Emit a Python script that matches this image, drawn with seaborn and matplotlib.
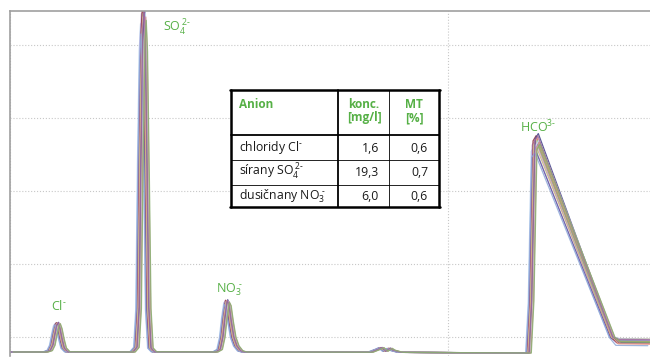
import numpy as np
import pandas as pd
import matplotlib.pyplot as plt
import seaborn as sns
from matplotlib.patches import Rectangle
from matplotlib.lines import Line2D

# template chromatogram (time in min, conductivity)
tmpl_t = [0.00, 0.80, 0.90, 0.96, 1.01, 1.05, 1.08, 1.12, 1.17, 1.22, 1.30,
          2.79, 2.88, 2.93, 2.97, 3.01, 3.04, 3.07, 3.11, 3.15, 3.20, 3.28,
          4.68, 4.78, 4.84, 4.89, 4.94, 4.98, 5.03, 5.09, 5.16, 5.25, 5.34,
          8.22, 8.40, 8.47, 8.56, 8.66, 8.72, 8.90,
          11.83, 11.89, 11.96, 12.03, 13.74, 13.88, 14.61]
tmpl_y = [7.95, 7.95, 8.15, 8.90, 10.5, 11.6, 11.9, 11.2, 9.7, 8.5, 7.98,
          7.95, 8.6, 14.0, 35.0, 50.5, 54.3, 50.0, 33.0, 14.0, 8.5, 7.98,
          7.95, 8.3, 10.0, 12.8, 14.9, 14.4, 12.2, 10.0, 8.8, 8.1, 7.95,
          7.92, 8.35, 8.55, 8.05, 8.45, 8.2, 7.90,
          7.81, 15.0, 36.3, 37.0, 10.0, 9.45, 9.40]

# per-run retention shift (min), peak scale, tail level offset, colour
run_shift = [-0.06, -0.04, -0.03, -0.02, -0.01, 0.00, 0.00, 0.01,
             0.02, 0.03, 0.04, 0.05, 0.06, -0.05, 0.02, 0.07]
run_scale = [0.97, 1.00, 0.95, 1.02, 0.99, 1.00, 0.96, 1.01,
             0.98, 1.03, 0.97, 1.00, 0.99, 0.94, 1.02, 0.98]
run_tail = [0.3, -0.2, 0.0, -0.3, 0.2, -0.1, 0.4, -0.4,
            0.1, -0.2, 0.0, 0.3, -0.3, -0.5, 0.2, -0.1]
run_colors = ["#a8c8ec", "#b8a4d8", "#6a4c9c", "#8c2f3f", "#e3a6b8", "#9fd08c",
              "#c9b27f", "#ee9a86", "#7b86b8", "#3f3f85", "#b0b060", "#c0d8f0",
              "#d09090", "#8fa8d8", "#a06aa0", "#88b070"]

# table content
tab_anion = [r"chloridy Cl$^{\text{-}}$", r"sírany SO$_4^{\,2\text{-}}$",
             r"dusičnany NO$_3^{\,\,\text{-}}$"]
tab_konc = ["1,6", "19,3", "6,0"]
tab_mt = ["0,6", "0,7", "0,6"]

rows = []
base = tmpl_y[0]
for i in range(len(run_shift)):
    y = [base + (v - base) * run_scale[i] for v in tmpl_y]
    y[-2] += run_tail[i]
    y[-1] += run_tail[i]
    for t, v in zip(tmpl_t, y):
        rows.append({"run": i, "t": t + run_shift[i], "s": v})
df = pd.DataFrame(rows)

sns.set_theme(style="white")
plt.rcParams["font.family"] = ["Open Sans", "DejaVu Sans"]
plt.rcParams["mathtext.fontset"] = "custom"
plt.rcParams["mathtext.rm"] = "Open Sans"
plt.rcParams["mathtext.bf"] = "Open Sans:bold"
plt.rcParams["mathtext.default"] = "regular"

W, H = 650, 358
fig = plt.figure(figsize=(6.5, 3.58), dpi=100)
ax = fig.add_axes([10 / W, 1 - 356 / H, 640 / W, 345 / H])

sns.lineplot(data=df, x="t", y="s", hue="run", palette=run_colors,
             estimator=None, sort=False, legend=False, lw=0.9, alpha=0.85, ax=ax)

ax.set_xlim(0, 14.61)
ax.set_ylim(7.40, 54.66)
ax.set_xticks([0, 10])
ax.set_yticks([10, 20, 30, 40, 50])
ax.grid(True, color="#c8c8c8", ls=":", lw=0.8)
ax.set_axisbelow(True)
ax.tick_params(left=False, bottom=False, labelleft=False, labelbottom=False)
ax.set_xlabel("")
ax.set_ylabel("")
for s in ["right", "bottom"]:
    ax.spines[s].set_visible(False)
for s in ["left", "top"]:
    ax.spines[s].set_color("#a0a0a0")
    ax.spines[s].set_linewidth(1.2)


def px(x, y):
    return x / W, 1 - y / H


green = "#56b046"
fig.text(*px(51, 306), r"Cl$^{\text{-}}$", color=green, fontsize=9, va="center")
fig.text(*px(163, 28), r"SO$_4^{\,2\text{-}}$", color=green, fontsize=9, va="center")
fig.text(*px(216, 290), r"NO$_3^{\,\,\text{-}}$", color=green, fontsize=9, va="center")
fig.text(*px(520, 127), r"HCO$^{3\text{-}}$", color=green, fontsize=9, va="center")

# table
x0, x1, x2, x3 = 231, 338, 389, 439
y0, y1, y2, y3, y4 = 90, 135, 160, 185, 207
fig.patches.append(Rectangle(px(x0, y4), (x3 - x0) / W, (y4 - y0) / H,
                             transform=fig.transFigure, fc="white", ec="none", zorder=3))


def hline(y, xa, xb, lw):
    fig.lines.append(Line2D([xa / W, xb / W], [1 - y / H] * 2, color="black", lw=lw,
                            transform=fig.transFigure, zorder=4))


def vline(x, ya, yb, lw):
    fig.lines.append(Line2D([x / W] * 2, [1 - ya / H, 1 - yb / H], color="black", lw=lw,
                            transform=fig.transFigure, zorder=4))


hline(y0, x0 - 0.7, x3 + 0.7, 1.8)
hline(y4, x0 - 0.7, x3 + 0.7, 1.8)
vline(x0, y0, y4, 1.8)
vline(x3, y0, y4, 1.8)
hline(y1, x0, x3, 1.3)
hline(y2, x0, x3, 0.6)
hline(y3, x0, x3, 0.6)
vline(x1, y0, y4, 1.3)
vline(x2, y0, y4, 0.6)

fig.text(*px(239, 104), "Anion", color=green, fontsize=8.5, fontweight="bold", va="center")
fig.text(*px(364, 111), "konc.\n[mg/l]", color=green, fontsize=8.5, fontweight="bold",
         va="center", ha="center", linespacing=1.05)
fig.text(*px(414, 111), "MT\n[%]", color=green, fontsize=8.5, fontweight="bold",
         va="center", ha="center", linespacing=1.05)
row_y = [148, 172, 196]
for i in range(3):
    fig.text(*px(239, row_y[i]), tab_anion[i], fontsize=8.8, va="center", color="#1a1a1a")
    fig.text(*px(379, row_y[i]), tab_konc[i], fontsize=8.8, va="center", ha="right",
             color="#1a1a1a")
    fig.text(*px(428, row_y[i]), tab_mt[i], fontsize=8.8, va="center", ha="right",
             color="#1a1a1a")

fig.savefig("out.png", dpi=100)
